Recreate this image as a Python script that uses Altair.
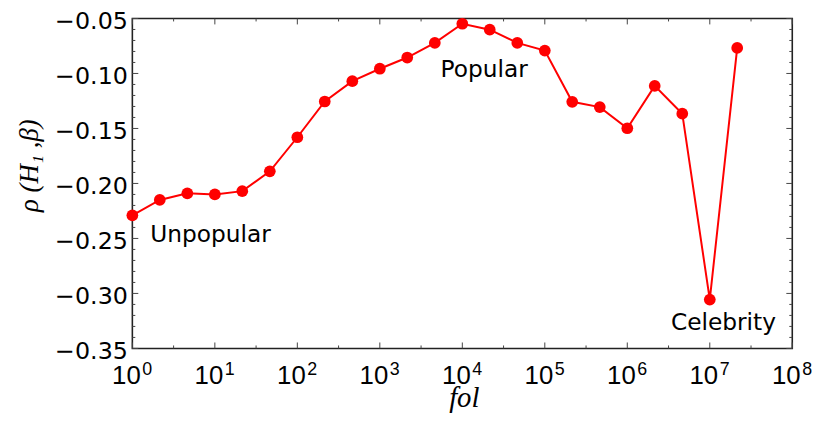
import altair as alt
import pandas as pd

# ---- data ----
fol = [1, 2.15, 4.64, 10, 21.5, 46.4, 100, 215, 464, 1000, 2150, 4640,
       1e4, 2.15e4, 4.64e4, 1e5, 2.15e5, 4.64e5, 1e6, 2.15e6, 4.64e6, 1e7, 2.15e7]
rho = [-0.229, -0.215, -0.209, -0.210, -0.207, -0.189, -0.158, -0.1255, -0.107,
       -0.0957, -0.0855, -0.0722, -0.0548, -0.0602, -0.0722, -0.0792, -0.1258,
       -0.1306, -0.1498, -0.1113, -0.1366, -0.3056, -0.0768]

ann_text = ["Unpopular", "Popular", "Celebrity"]
ann_x = [1.65, 5445, 3.38e6]
ann_y = [-0.2536, -0.1034, -0.3332]

x_exponents = [0, 1, 2, 3, 4, 5, 6, 7, 8]
x_major = [1, 10, 100, 1e3, 1e4, 1e5, 1e6, 1e7, 1e8]
x_minor = [3.162, 31.62, 316.2, 3162, 31623, 316228, 3162278, 31622777]
y_major = [-0.35, -0.30, -0.25, -0.20, -0.15, -0.10, -0.05]
y_minor = [-0.34, -0.33, -0.32, -0.31, -0.29, -0.28, -0.27, -0.26, -0.24, -0.23,
           -0.22, -0.21, -0.19, -0.18, -0.17, -0.16, -0.14, -0.13, -0.12, -0.11,
           -0.09, -0.08, -0.07, -0.06]

W, H = 666, 333
RED = "#ff0000"
SANS = "DejaVu Sans"
XSANS = "Liberation Sans"
SERIF = "Liberation Serif"

df = pd.DataFrame({"fol": fol, "rho": rho})
ann = pd.DataFrame({"t": ann_text, "x": ann_x, "y": ann_y})
xl = pd.DataFrame({"v": x_major, "e": [str(e) for e in x_exponents]})
xmaj = pd.DataFrame({"v": x_major})
xmin = pd.DataFrame({"v": x_minor})
ymaj = pd.DataFrame({"v": y_major})
ymin = pd.DataFrame({"v": y_minor})

xscale = alt.Scale(type="log", domain=[1, 1e8], nice=False)
yscale = alt.Scale(domain=[-0.35, -0.05], nice=False, zero=False)

x_axis = alt.Axis(ticks=False, labels=False, domain=False, grid=False,
                  title="fol", titleFont=SERIF, titleFontStyle="italic",
                  titleFontWeight="normal", titleFontSize=29, titleColor="black",
                  titleX=334.5, titleY=58.5, titleAlign="center",
                  titleBaseline="alphabetic")
y_axis = alt.Axis(values=y_major, format=".2f", ticks=False, tickSize=0,
                  domain=False, grid=False, labelFont=SANS, labelFontSize=24,
                  labelColor="black", labelPadding=5, labelOffset=3,
                  title="ρ (H₁ ,β)", titleFont=SERIF, titleFontStyle="italic",
                  titleFontWeight="normal", titleFontSize=27, titleColor="black",
                  titleAngle=270, titleX=-104, titleY=148, titleAlign="center",
                  titleBaseline="middle")

line = alt.Chart(df).mark_line(color=RED, strokeWidth=2, clip=False).encode(
    x=alt.X("fol:Q", scale=xscale, axis=x_axis),
    y=alt.Y("rho:Q", scale=yscale, axis=y_axis),
)
pts = alt.Chart(df).mark_circle(color=RED, size=140, opacity=1, clip=False).encode(
    x=alt.X("fol:Q", scale=xscale),
    y=alt.Y("rho:Q", scale=yscale),
)

TC = "#444444"
def xticks(d, length):
    bot = alt.Chart(d).mark_rule(color=TC, strokeWidth=1).encode(
        x=alt.X("v:Q", scale=xscale), y=alt.value(H), y2=alt.value(H - length))
    top = alt.Chart(d).mark_rule(color=TC, strokeWidth=1).encode(
        x=alt.X("v:Q", scale=xscale), y=alt.value(0), y2=alt.value(length))
    return bot + top

def yticks(d, length):
    left = alt.Chart(d).mark_rule(color=TC, strokeWidth=1).encode(
        y=alt.Y("v:Q", scale=yscale), x=alt.value(0), x2=alt.value(length))
    right = alt.Chart(d).mark_rule(color=TC, strokeWidth=1).encode(
        y=alt.Y("v:Q", scale=yscale), x=alt.value(W), x2=alt.value(W - length))
    return left + right

ten = alt.Chart(xl).mark_text(font=XSANS, fontSize=26, color="black", align="right",
                              baseline="alphabetic", dx=8.5, dy=35.7).encode(
    x=alt.X("v:Q", scale=xscale), y=alt.value(H), text=alt.value("10"))
expo = alt.Chart(xl).mark_text(font=XSANS, fontSize=18, color="black", align="left",
                               baseline="alphabetic", dx=10, dy=26.7).encode(
    x=alt.X("v:Q", scale=xscale), y=alt.value(H), text="e:N")

labels = alt.Chart(ann).mark_text(font=SANS, fontSize=23.5, color="black", align="left",
                                  baseline="alphabetic").encode(
    x=alt.X("x:Q", scale=xscale), y=alt.Y("y:Q", scale=yscale), text="t:N")

chart = alt.layer(
    xticks(xmaj, 6), xticks(xmin, 3), yticks(ymaj, 6), yticks(ymin, 3),
    line, pts, labels, ten, expo,
).properties(
    width=W, height=H,
    autosize=alt.AutoSizeParams(type="none"),
    padding={"left": 125.5, "top": 8.7, "right": 30, "bottom": 65},
).configure_view(stroke="#222222", strokeWidth=1.6)

chart.save("out.html", embed_options={"renderer": "svg", "actions": False})
